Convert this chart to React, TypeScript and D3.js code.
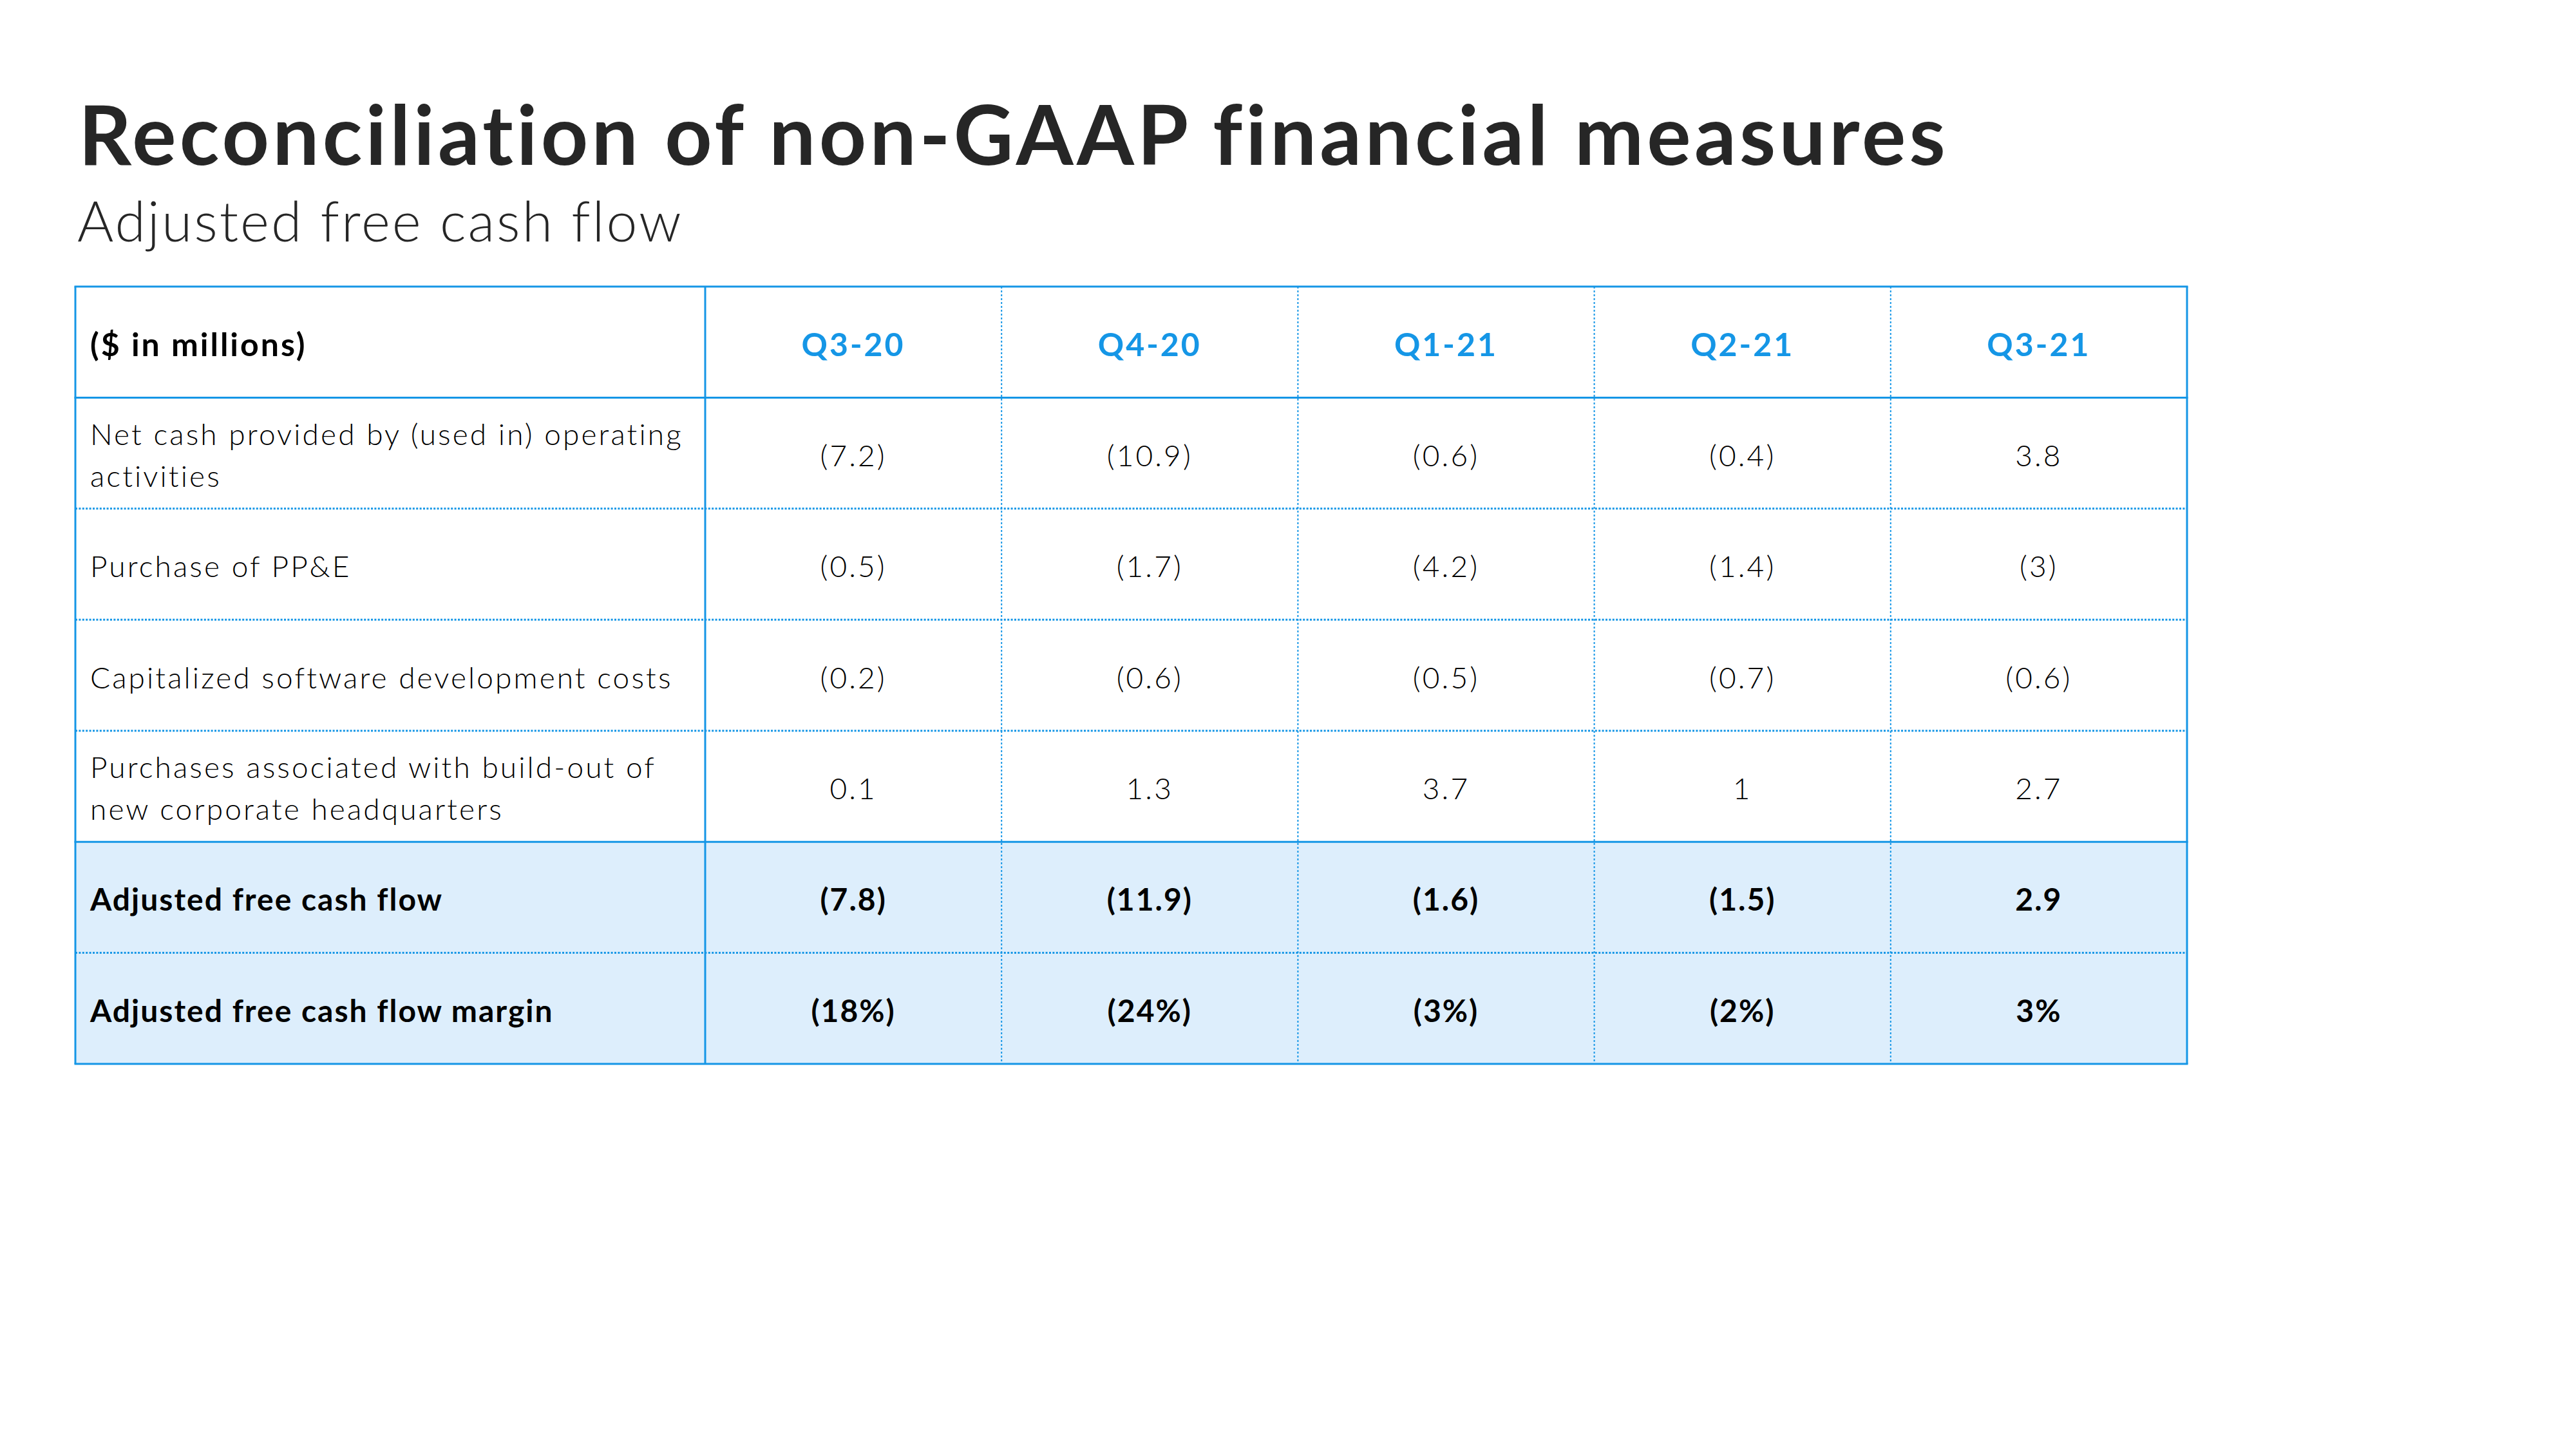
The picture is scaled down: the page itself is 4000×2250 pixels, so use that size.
import React from "react";
import * as d3 from "d3";

const title = "Reconciliation of non-GAAP financial measures";
const subtitle = "Adjusted free cash flow";
const cornerLabel = "($ in millions)";
const quarters = ["Q3-20", "Q4-20", "Q1-21", "Q2-21", "Q3-21"];

const rowLabels = [
  ["Net cash provided by (used in) operating", "activities"],
  ["Purchase of PP&E"],
  ["Capitalized software development costs"],
  ["Purchases associated with build-out of", "new corporate headquarters"],
  ["Adjusted free cash flow"],
  ["Adjusted free cash flow margin"],
];
const netCashOps = ["(7.2)", "(10.9)", "(0.6)", "(0.4)", "3.8"];
const purchasePPE = ["(0.5)", "(1.7)", "(4.2)", "(1.4)", "(3)"];
const capSoftware = ["(0.2)", "(0.6)", "(0.5)", "(0.7)", "(0.6)"];
const hqPurchases = ["0.1", "1.3", "3.7", "1", "2.7"];
const adjFCF = ["(7.8)", "(11.9)", "(1.6)", "(1.5)", "2.9"];
const adjFCFMargin = ["(18%)", "(24%)", "(3%)", "(2%)", "3%"];
const highlighted = [false, false, false, false, true, true];

const rowValues = [netCashOps, purchasePPE, capSoftware, hqPurchases, adjFCF, adjFCFMargin];

const FONT = "Lato, 'Noto Sans', sans-serif";
const BLUE = "#1596e6";
const FILL = "#ddeefc";

export default function App() {
  const W = 4000, H = 2250;
  const tableLeft = 117, labelRight = 1095, tableRight = 3396;
  const tableTop = 445, tableBottom = 1652;
  const nRows = rowLabels.length + 1;

  const y = d3.scaleBand<number>().domain(d3.range(nRows)).range([tableTop, tableBottom]).padding(0);
  const x = d3.scaleBand<string>().domain(quarters).range([labelRight, tableRight]).padding(0);
  const rh = y.bandwidth();

  const textX = 140;

  // boundaries between body rows: index b separates body row b-2 and b-1 (y(b))
  const bodyBoundaries = d3.range(2, nRows);
  const isSolidBoundary = (b: number) => highlighted[b - 1] && !highlighted[b - 2];

  return (
    <svg width={W} height={H} style={{ display: "block", position: "absolute", left: 0, top: 0 }}>
      <rect width={W} height={H} fill="#fff" />
      <text x={122} y={256} fontFamily={FONT} fontWeight={700} fontSize={128} letterSpacing={5.2} fill="#262626">{title}</text>
      <text x={120} y={375} fontFamily={FONT} fontWeight={300} fontSize={86} letterSpacing={3} fill="#262626">{subtitle}</text>

      {highlighted.map((h, i) =>
        h ? (
          <rect key={"f" + i} x={tableLeft} y={y(i + 1)!} width={tableRight - tableLeft} height={rh} fill={FILL} />
        ) : null
      )}

      {bodyBoundaries.filter((b) => !isSolidBoundary(b)).map((b) => (
        <line key={"h" + b} x1={tableLeft} x2={tableRight} y1={y(b)!} y2={y(b)!} stroke={BLUE} strokeWidth={3} strokeDasharray="3,2.4" />
      ))}
      {quarters.slice(1).map((q) => (
        <line key={"v" + q} x1={x(q)!} x2={x(q)!} y1={tableTop} y2={tableBottom} stroke={BLUE} strokeWidth={2} strokeDasharray="3,3" />
      ))}
      {[y(0)!, y(1)!, ...bodyBoundaries.filter(isSolidBoundary).map((b) => y(b)!), tableBottom].map((yy, i) => (
        <line key={"s" + i} x1={tableLeft - 1.5} x2={tableRight + 1.5} y1={yy} y2={yy} stroke={BLUE} strokeWidth={3} />
      ))}
      {[tableLeft, labelRight, tableRight].map((xx, i) => (
        <line key={"sv" + i} x1={xx} x2={xx} y1={tableTop} y2={tableBottom} stroke={BLUE} strokeWidth={3} />
      ))}

      <text x={textX} y={y(0)! + rh / 2 + 22} fontFamily={FONT} fontWeight={700} fontSize={50} letterSpacing={3} fill="#000">{cornerLabel}</text>
      {quarters.map((q) => (
        <text key={"q" + q} x={x(q)! + x.bandwidth() / 2} y={y(0)! + rh / 2 + 22} textAnchor="middle" fontFamily={FONT} fontWeight={700} fontSize={50} letterSpacing={3} fill={BLUE}>{q}</text>
      ))}

      {rowLabels.map((lines, i) => {
        const cy = y(i + 1)! + rh / 2;
        const bold = highlighted[i];
        const base = cy + (bold ? 21 : 20);
        const off = (lines.length - 1) * 32.5;
        const fw = bold ? 700 : 300;
        const fs = bold ? 48 : 46;
        const ls = bold ? 2 : 3.1;
        return (
          <g key={"r" + i}>
            {lines.map((ln, j) => (
              <text key={j} x={textX} y={base - off + j * 65} fontFamily={FONT} fontWeight={fw} fontSize={fs} letterSpacing={ls} fill="#000">{ln}</text>
            ))}
            {rowValues[i].map((v, k) => (
              <text key={"v" + k} x={x(quarters[k])! + x.bandwidth() / 2} y={base} textAnchor="middle" fontFamily={FONT} fontWeight={fw} fontSize={fs} letterSpacing={ls} fill="#000">{v}</text>
            ))}
          </g>
        );
      })}
    </svg>
  );
}
